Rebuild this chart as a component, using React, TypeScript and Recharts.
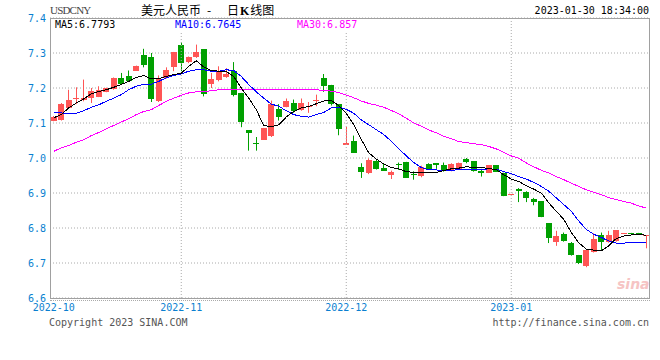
import {
  ComposedChart,
  Bar,
  Line,
  XAxis,
  YAxis,
  CartesianGrid,
  ReferenceLine,
} from "recharts";

const dates = [
  "2022-10-09", "2022-10-10", "2022-10-11", "2022-10-12", "2022-10-13", "2022-10-14",
  "2022-10-17", "2022-10-18", "2022-10-19", "2022-10-20", "2022-10-21",
  "2022-10-24", "2022-10-25", "2022-10-26", "2022-10-27", "2022-10-28", "2022-10-31",
  "2022-11-01", "2022-11-02", "2022-11-03", "2022-11-04",
  "2022-11-07", "2022-11-08", "2022-11-09", "2022-11-10", "2022-11-11",
  "2022-11-14", "2022-11-15", "2022-11-16", "2022-11-17", "2022-11-18",
  "2022-11-21", "2022-11-22", "2022-11-23", "2022-11-24", "2022-11-25",
  "2022-11-28", "2022-11-29", "2022-11-30",
  "2022-12-01", "2022-12-02",
  "2022-12-05", "2022-12-06", "2022-12-07", "2022-12-08", "2022-12-09",
  "2022-12-12", "2022-12-13", "2022-12-14", "2022-12-15", "2022-12-16",
  "2022-12-19", "2022-12-20", "2022-12-21", "2022-12-22", "2022-12-23",
  "2022-12-26", "2022-12-27", "2022-12-28", "2022-12-29", "2022-12-30",
  "2023-01-02", "2023-01-03", "2023-01-04", "2023-01-05", "2023-01-06",
  "2023-01-09", "2023-01-10", "2023-01-11", "2023-01-12", "2023-01-13",
  "2023-01-16", "2023-01-17", "2023-01-18", "2023-01-19", "2023-01-20",
  "2023-01-27", "2023-01-28", "2023-01-29", "2023-01-30",
];

const open = [
  7.107, 7.107, 7.143, 7.170, 7.164, 7.173, 7.176, 7.189, 7.197, 7.229,
  7.235, 7.250, 7.293, 7.288, 7.162, 7.230, 7.259, 7.324, 7.273, 7.288,
  7.311, 7.212, 7.221, 7.231, 7.250, 7.186, 7.079, 7.043, 7.052, 7.062,
  7.140, 7.146, 7.157, 7.138, 7.146, 7.166, 7.229, 7.209, 7.154, 7.038,
  7.050, 6.974, 6.957, 6.992, 6.971, 6.950, 6.982, 6.989, 6.953, 6.947,
  6.983, 6.985, 6.980, 6.964, 6.969, 6.997, 6.991, 6.964, 6.957, 6.980,
  6.958, 6.898, 6.911, 6.902, 6.884, 6.876, 6.813, 6.761, 6.782, 6.758,
  6.723, 6.692, 6.732, 6.779, 6.760, 6.763, 6.785, 6.786, 6.786, 6.775,
];
const high = [
  7.120, 7.157, 7.195, 7.202, 7.224, 7.200, 7.205, 7.201, 7.230, 7.243,
  7.250, 7.264, 7.312, 7.300, 7.236, 7.259, 7.303, 7.330, 7.290, 7.324,
  7.311, 7.243, 7.262, 7.257, 7.274, 7.186, 7.079, 7.060, 7.086, 7.164,
  7.154, 7.170, 7.167, 7.170, 7.160, 7.181, 7.240, 7.209, 7.154, 7.089,
  7.064, 6.985, 6.999, 6.997, 6.983, 6.964, 6.987, 6.989, 6.962, 6.978,
  6.985, 6.985, 6.987, 6.985, 6.987, 7.000, 6.991, 6.969, 6.980, 6.980,
  6.958, 6.898, 6.914, 6.905, 6.886, 6.876, 6.813, 6.792, 6.787, 6.760,
  6.723, 6.737, 6.785, 6.787, 6.792, 6.793, 6.785, 6.786, 6.786, 6.779,
];
const low = [
  7.105, 7.107, 7.141, 7.154, 7.162, 7.157, 7.174, 7.188, 7.195, 7.210,
  7.219, 7.250, 7.259, 7.160, 7.160, 7.227, 7.248, 7.248, 7.271, 7.286,
  7.176, 7.200, 7.219, 7.229, 7.176, 7.088, 7.021, 7.021, 7.052, 7.060,
  7.107, 7.145, 7.129, 7.135, 7.129, 7.148, 7.189, 7.150, 7.065, 7.038,
  7.017, 6.943, 6.954, 6.967, 6.963, 6.940, 6.966, 6.943, 6.938, 6.945,
  6.967, 6.969, 6.961, 6.962, 6.967, 6.985, 6.961, 6.947, 6.957, 6.961,
  6.891, 6.898, 6.874, 6.874, 6.865, 6.831, 6.757, 6.749, 6.761, 6.721,
  6.697, 6.688, 6.730, 6.735, 6.758, 6.761, 6.785, 6.782, 6.782, 6.742,
];
const close = [
  7.118, 7.154, 7.167, 7.171, 7.171, 7.192, 7.195, 7.200, 7.229, 7.211,
  7.222, 7.264, 7.265, 7.167, 7.226, 7.252, 7.303, 7.273, 7.288, 7.302,
  7.183, 7.226, 7.248, 7.240, 7.181, 7.103, 7.070, 7.042, 7.086, 7.154,
  7.118, 7.164, 7.133, 7.157, 7.148, 7.167, 7.207, 7.154, 7.084, 7.043,
  7.017, 6.961, 6.994, 6.969, 6.963, 6.959, 6.978, 6.943, 6.952, 6.973,
  6.969, 6.978, 6.964, 6.983, 6.985, 6.987, 6.961, 6.959, 6.980, 6.961,
  6.892, 6.898, 6.904, 6.884, 6.876, 6.831, 6.770, 6.777, 6.763, 6.724,
  6.699, 6.737, 6.768, 6.760, 6.779, 6.793, 6.785, 6.782, 6.782, 6.779,
];

const ma5 = [
  7.115, 7.124, 7.143, 7.157, 7.169, 7.183, 7.190, 7.195, 7.202, 7.210,
  7.219, 7.230, 7.236, 7.226, 7.227, 7.233, 7.238, 7.242, 7.262, 7.278,
  7.260, 7.250, 7.248, 7.247, 7.233, 7.200, 7.171, 7.138, 7.093, 7.089,
  7.095, 7.117, 7.133, 7.143, 7.147, 7.155, 7.163, 7.164, 7.150, 7.128,
  7.095, 7.053, 7.015, 6.997, 6.983, 6.973, 6.969, 6.961, 6.959, 6.959,
  6.959, 6.959, 6.964, 6.969, 6.971, 6.975, 6.973, 6.973, 6.970, 6.967,
  6.952, 6.940, 6.933, 6.921, 6.911, 6.900, 6.872, 6.848, 6.825, 6.787,
  6.758, 6.740, 6.737, 6.735, 6.749, 6.770, 6.777, 6.780, 6.782, 6.779,
];
const ma10 = [
  7.129, 7.129, 7.126, 7.128, 7.135, 7.145, 7.152, 7.162, 7.171, 7.181,
  7.195, 7.205, 7.211, 7.211, 7.219, 7.229, 7.236, 7.240, 7.248, 7.252,
  7.252, 7.248, 7.248, 7.252, 7.250, 7.233, 7.210, 7.189, 7.171, 7.154,
  7.148, 7.135, 7.124, 7.119, 7.117, 7.124, 7.130, 7.143, 7.145, 7.139,
  7.128, 7.109, 7.095, 7.081, 7.067, 7.048, 7.027, 7.006, 6.987, 6.973,
  6.966, 6.966, 6.964, 6.964, 6.967, 6.967, 6.967, 6.967, 6.969, 6.968,
  6.961, 6.955, 6.947, 6.940, 6.930, 6.919, 6.905, 6.886, 6.867, 6.848,
  6.820, 6.796, 6.782, 6.773, 6.763, 6.757, 6.757, 6.758, 6.758, 6.760,
];
const ma30 = [
  7.019, 7.029, 7.036, 7.045, 7.052, 7.064, 7.073, 7.083, 7.093, 7.103,
  7.112, 7.124, 7.133, 7.138, 7.150, 7.162, 7.171, 7.179, 7.186, 7.189,
  7.190, 7.192, 7.195, 7.195, 7.195, 7.195, 7.195, 7.195, 7.195, 7.195,
  7.195, 7.195, 7.195, 7.195, 7.195, 7.195, 7.193, 7.191, 7.187, 7.180,
  7.172, 7.163, 7.156, 7.151, 7.145, 7.136, 7.126, 7.114, 7.100, 7.091,
  7.080, 7.072, 7.062, 7.055, 7.047, 7.044, 7.041, 7.038, 7.033, 7.026,
  7.016, 7.006, 6.999, 6.986, 6.975, 6.965, 6.957, 6.947, 6.938, 6.928,
  6.919, 6.909, 6.902, 6.895, 6.887, 6.881, 6.876, 6.871, 6.863, 6.857,
];

const yTicks = [6.6, 6.7, 6.8, 6.9, 7.0, 7.1, 7.2, 7.3, 7.4];
const monthStarts = ["2022-11-01", "2022-12-01", "2023-01-02"];
const xTicks = ["2022-10-09", ...monthStarts];

const UP = "#ff5555";
const DOWN = "#00a000";
const MONO = "'DejaVu Sans Mono', monospace";
const BLUE_LABEL = "#0a7fd0";

const data = dates.map((date, i) => ({
  date,
  open: open[i],
  high: high[i],
  low: low[i],
  close: close[i],
  range: [low[i], high[i]],
  ma5: ma5[i],
  ma10: ma10[i],
  ma30: ma30[i],
}));

// body + wick, positioned from the bar's own high/low pixels
function Candle(props: any) {
  const { x, y, width, height, payload } = props;
  if (payload == null || x == null) return null;
  const { open: o, close: c, high: h, low: l } = payload;
  const color = c >= o ? UP : DOWN;
  const span = h - l;
  const toY = (v: number) => (span > 0 ? y + ((h - v) / span) * height : y);
  const cx = Math.floor(x + width / 2) + 0.5;
  const top = Math.min(toY(o), toY(c));
  const bodyH = Math.max(1, Math.abs(toY(o) - toY(c)));
  return (
    <g>
      {span > 0 && (
        <line x1={cx} x2={cx} y1={y} y2={y + height} stroke={color} strokeWidth={1} />
      )}
      <rect
        x={Math.round(x)}
        y={Math.round(top)}
        width={Math.round(width)}
        height={Math.max(1, Math.round(bodyH))}
        fill={color}
        shapeRendering="crispEdges"
      />
    </g>
  );
}

const txt = (extra: any) => ({
  position: "absolute" as const,
  fontFamily: MONO,
  fontSize: 10,
  lineHeight: "12px",
  whiteSpace: "pre" as const,
  ...extra,
});

export default function App() {
  return (
    <div
      style={{
        position: "absolute",
        left: 0,
        top: 0,
        width: 660,
        height: 360,
        background: "#fff",
        overflow: "hidden",
      }}
    >
      <ComposedChart
        width={660}
        height={360}
        data={data}
        margin={{ top: 18, right: 10, bottom: 0, left: 0 }}
      >
        <CartesianGrid
          vertical={false}
          stroke="#aaa"
          strokeDasharray="1 2"
        />
        {monthStarts.map((d) => (
          <ReferenceLine key={d} x={d} stroke="#aaa" strokeDasharray="1 2" />
        ))}
        <XAxis
          dataKey="date"
          ticks={xTicks}
          interval={0}
          height={62}
          axisLine={false}
          tickLine={false}
          tickSize={0}
          tickMargin={6}
          tickFormatter={(d: string) => d.slice(0, 7)}
          tick={{ fill: BLUE_LABEL, fontSize: 10, fontFamily: MONO }}
        />
        <YAxis
          type="number"
          domain={[6.6, 7.4]}
          ticks={yTicks}
          interval={0}
          width={50}
          axisLine={false}
          tickLine={false}
          tickSize={0}
          tickMargin={4}
          allowDataOverflow
          tickFormatter={(v: number) => v.toFixed(1)}
          tick={{ fill: BLUE_LABEL, fontSize: 10, fontFamily: MONO }}
        />
        <Bar dataKey="range" shape={Candle} isAnimationActive={false} />
        <Line
          type="linear"
          dataKey="ma30"
          stroke="#ff00ff"
          strokeWidth={1}
          dot={false}
          shapeRendering="crispEdges"
          isAnimationActive={false}
        />
        <Line
          type="linear"
          dataKey="ma10"
          stroke="#0000ff"
          strokeWidth={1}
          dot={false}
          shapeRendering="crispEdges"
          isAnimationActive={false}
        />
        <Line
          type="linear"
          dataKey="ma5"
          stroke="#000000"
          strokeWidth={1}
          dot={false}
          shapeRendering="crispEdges"
          isAnimationActive={false}
        />
      </ComposedChart>

      {/* plot frame */}
      <div
        style={{
          position: "absolute",
          left: 50,
          top: 18,
          width: 600,
          height: 281,
          border: "1px solid #a0a0a0",
          boxSizing: "border-box",
          pointerEvents: "none",
        }}
      />
      <div
        style={{
          position: "absolute",
          left: 50,
          top: 300,
          width: 600,
          borderTop: "1px dotted #aaa",
        }}
      />

      {/* header */}
      <div
        style={{
          position: "absolute",
          left: 50,
          top: 4,
          fontFamily: "'Liberation Serif', serif",
          fontSize: 11,
          lineHeight: "12px",
          letterSpacing: "-0.8px",
          color: "#444",
        }}
      >
        USDCNY
      </div>
      <div
        style={{
          position: "absolute",
          left: 141,
          top: 3,
          fontFamily: "'Noto Sans CJK SC', sans-serif",
          fontSize: 12,
          lineHeight: "13px",
          color: "#000",
          whiteSpace: "pre",
        }}
      >
        美元人民币
      </div>
      <div style={{ position: "absolute", left: 207, top: 3, fontFamily: "'Noto Sans CJK SC', sans-serif", fontSize: 12, lineHeight: "13px" }}>
        -
      </div>
      <div style={{ position: "absolute", left: 227, top: 3, fontFamily: "'Noto Sans CJK SC', sans-serif", fontSize: 12, lineHeight: "13px" }}>
        日<b style={{ fontFamily: "'Liberation Serif', serif", margin: "0 1px" }}>K</b>线图
      </div>
      <div style={txt({ right: 11, top: 5, color: "#000" })}>2023-01-30 18:34:00</div>

      {/* MA legend */}
      <div style={txt({ left: 55, top: 19, color: "#000", background: "#fff" })}>MA5:6.7793</div>
      <div style={txt({ left: 175, top: 19, color: "#0000ff", background: "#fff" })}>MA10:6.7645</div>
      <div style={txt({ left: 297, top: 19, color: "#ff00ff", background: "#fff" })}>MA30:6.857</div>

      {/* watermark */}
      <div
        style={{
          position: "absolute",
          left: 617,
          top: 277,
          fontFamily: "'DejaVu Sans', sans-serif",
          fontSize: 14,
          fontWeight: "bold",
          fontStyle: "italic",
          lineHeight: "14px",
          color: "#f6c4c4",
        }}
      >
        sina
      </div>

      {/* footer */}
      <div style={txt({ left: 49, top: 317, color: "#555" })}>Copyright 2023 SINA.COM</div>
      <div style={txt({ right: 11, top: 317, color: "#555" })}>http://finance.sina.com.cn</div>
    </div>
  );
}
